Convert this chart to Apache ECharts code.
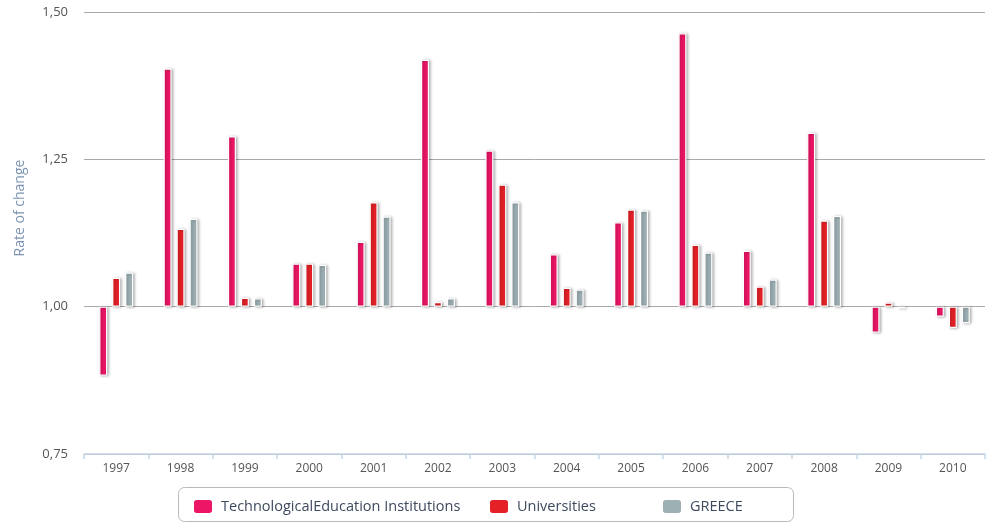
<!DOCTYPE html>
<html lang="en">
<head>
    <meta charset="UTF-8">
    <title>Rate of change</title>
    <style>
        html, body { margin: 0; padding: 0; background: #fff; }
    </style>
</head>
<body>
<script src="https://cdn.jsdelivr.net/npm/echarts@6/dist/echarts.min.js"></script>

<div id="main" style="width: 989px;height:523px;"></div>

<script type="text/javascript">
    // data
    var years = ['1997', '1998', '1999', '2000', '2001', '2002', '2003', '2004', '2005', '2006', '2007', '2008', '2009', '2010'];
    var tei = [0.883, 1.404, 1.289, 1.073, 1.110, 1.419, 1.265, 1.089, 1.143, 1.464, 1.095, 1.295, 0.956, 0.983];
    var universities = [1.049, 1.132, 1.015, 1.073, 1.177, 1.008, 1.207, 1.032, 1.165, 1.105, 1.034, 1.146, 1.007, 0.964];
    var greece = [1.058, 1.149, 1.014, 1.071, 1.153, 1.014, 1.177, 1.029, 1.163, 1.092, 1.046, 1.154, 0.997, 0.972];

    var base = 1; // bars grow from 1,00
    var names = ['TechnologicalEducation Institutions', 'Universities', 'GREECE'];
    var colors = ['#ec1566', '#e42127', '#9db0b4'];

    function fromBase(arr) {
        return arr.map(function (v) { return +(v - base).toFixed(4); });
    }

    var myChart = echarts.init(document.getElementById('main'));

    var barStyle = function (c) {
        return {
            color: c,
            borderColor: '#ffffff',
            borderWidth: 1.2,
            shadowColor: 'rgba(0,0,0,0.3)',
            shadowBlur: 3,
            shadowOffsetX: 1.5,
            shadowOffsetY: 0.5
        };
    };

    var legendText = { color: '#3d4a5e', fontSize: 14.5, fontFamily: 'Open Sans', padding: [0, 0, 0, 3] };

    var option = {
        animation: false,
        textStyle: { fontFamily: 'Open Sans' },
        grid: { left: 84, right: 4, top: 12, bottom: 69 },
        graphic: [{
            type: 'rect',
            shape: { x: 178.5, y: 487.5, width: 615, height: 34, r: 6 },
            style: { fill: '#fff', stroke: '#b9b9b9', lineWidth: 1 },
            z: -1
        }, {
            // y axis title, sits a bit above the middle like the original
            type: 'text',
            x: 20,
            y: 208,
            rotation: Math.PI / 2,
            style: {
                text: 'Rate of change',
                fill: '#7d94b1',
                fontSize: 14,
                fontFamily: 'Open Sans',
                align: 'center',
                verticalAlign: 'middle'
            }
        }],
        legend: [
            { data: [names[0]], left: 192, top: 498, padding: 0, itemWidth: 20, itemHeight: 15, icon: 'roundRect', textStyle: legendText },
            { data: [names[1]], left: 488, top: 498, padding: 0, itemWidth: 20, itemHeight: 15, icon: 'roundRect', textStyle: legendText },
            { data: [names[2]], left: 661, top: 498, padding: 0, itemWidth: 20, itemHeight: 15, icon: 'roundRect', textStyle: legendText }
        ],
        xAxis: {
            type: 'category',
            data: years,
            boundaryGap: true,
            axisLine: { onZero: false, lineStyle: { color: '#c6d5e6', width: 1.5 } },
            axisTick: { show: true, length: 5, lineStyle: { color: '#c6d5e6', width: 1.5 } },
            axisLabel: { color: '#555', fontSize: 12, margin: 9 },
            splitLine: { show: false }
        },
        yAxis: {
            type: 'value',
            min: -0.25,
            max: 0.5,
            interval: 0.25,
            axisLine: { show: false },
            axisTick: { show: false },
            axisLabel: {
                color: '#555',
                fontSize: 13,
                margin: 16,
                formatter: function (v) { return (v + base).toFixed(2).replace('.', ','); }
            },
            splitLine: { lineStyle: { color: '#a9a9a9', width: 1 } }
        },
        series: [
            { name: names[0], type: 'bar', data: fromBase(tei), barWidth: 8, barGap: '62%', itemStyle: barStyle(colors[0]) },
            { name: names[1], type: 'bar', data: fromBase(universities), barWidth: 8, barGap: '62%', itemStyle: barStyle(colors[1]) },
            { name: names[2], type: 'bar', data: fromBase(greece), barWidth: 8, barGap: '62%', itemStyle: barStyle(colors[2]) }
        ]
    };

    myChart.setOption(option);
</script>
</body>
</html>
